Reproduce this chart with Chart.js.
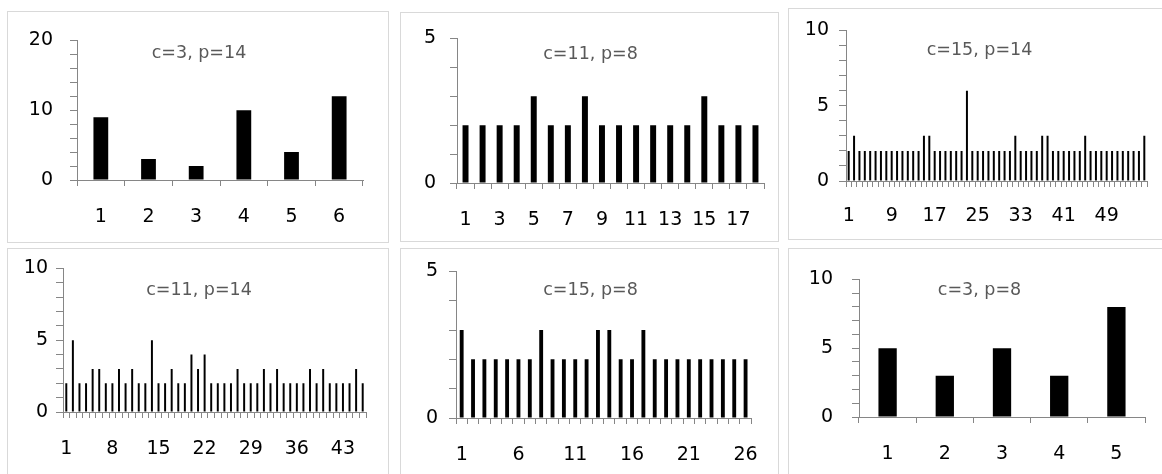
<!DOCTYPE html>
<html>
<head>
<meta charset="utf-8">
<script src="https://cdn.jsdelivr.net/npm/chart.js@4.4.1/dist/chart.umd.min.js"></script>
<style>
  body { margin: 0; background: #fff; width: 1162px; height: 474px; overflow: hidden; position: relative; }
  .panel { position: absolute; border: 1px solid #d9d9d9; background: #fff; box-sizing: border-box; }
  .panel canvas { display: block; }
</style>
</head>
<body>
<div class="panel" style="left:7px;top:11px;width:382px;height:232px"><canvas id="c3p14"></canvas></div>
<div class="panel" style="left:400px;top:12px;width:379px;height:230px"><canvas id="c11p8"></canvas></div>
<div class="panel" style="left:788px;top:8px;width:381px;height:232px"><canvas id="c15p14"></canvas></div>
<div class="panel" style="left:7px;top:248px;width:382px;height:232px"><canvas id="c11p14"></canvas></div>
<div class="panel" style="left:400px;top:248px;width:379px;height:232px"><canvas id="c15p8"></canvas></div>
<div class="panel" style="left:788px;top:248px;width:381px;height:232px"><canvas id="c3p8"></canvas></div>
<script>
// counts per group, one array per (c, p) run
const countsC3P14 = [9, 3, 2, 10, 4, 12];
const countsC11P8 = [2, 2, 2, 2, 3, 2, 2, 3, 2, 2, 2, 2, 2, 2, 3, 2, 2, 2];
const countsC15P14 = [2, 3, 2, 2, 2, 2, 2, 2, 2, 2, 2, 2, 2, 2, 3, 3, 2, 2, 2, 2,
                      2, 2, 6, 2, 2, 2, 2, 2, 2, 2, 2, 3, 2, 2, 2, 2, 3, 3, 2, 2,
                      2, 2, 2, 2, 3, 2, 2, 2, 2, 2, 2, 2, 2, 2, 2, 3];
const countsC11P14 = [2, 5, 2, 2, 3, 3, 2, 2, 3, 2, 3, 2, 2, 5, 2, 2, 3, 2, 2, 4,
                      3, 4, 2, 2, 2, 2, 3, 2, 2, 2, 3, 2, 3, 2, 2, 2, 2, 3, 2, 3,
                      2, 2, 2, 2, 3, 2];
const countsC15P8 = [3, 2, 2, 2, 2, 2, 2, 3, 2, 2, 2, 2, 3, 3, 2, 2, 3, 2, 2, 2, 2, 2, 2, 2, 2, 2];
const countsC3P8 = [5, 3, 5, 3, 8];

// group numbers 1..n on the x axis
const groupNumbers = n => Array.from({ length: n }, (_, i) => String(i + 1));

// y axis ranges: [max, minor step, labelled step]
const yRangeC3P14 = [20, 2, 10];
const yRangeSmall = [5, 1, 5];
const yRangeTen = [10, 1, 5];

// every k-th group number gets a label
const xLabelEvery = { c3p14: 1, c11p8: 2, c15p14: 8, c11p14: 7, c15p8: 5, c3p8: 1 };

const axisGray = '#868686';
const labelFont = { family: '"DejaVu Sans"', size: 19 };

const panelTitle = {
  id: 'panelTitle',
  afterDraw(chart, args, opts) {
    const ctx = chart.ctx;
    ctx.save();
    ctx.font = '17.5px "DejaVu Sans"';
    ctx.fillStyle = '#595959';
    ctx.textAlign = 'center';
    ctx.textBaseline = 'alphabetic';
    ctx.fillText(opts.text, chart.width / 2 + 1, opts.baseline);
    ctx.restore();
  }
};

const panels = [
  { id: 'c3p14', title: 'c=3, p=14', values: countsC3P14, y: yRangeC3P14, bar: 0.31,
    area: { left: 69, top: 16, right: 355, bottom: 168 }, yPad: 17, xPad: 20 },
  { id: 'c11p8', title: 'c=11, p=8', values: countsC11P8, y: yRangeSmall, bar: 0.35,
    area: { left: 56, top: 15, right: 363, bottom: 170 }, yPad: 14, xPad: 20 },
  { id: 'c15p14', title: 'c=15, p=14', values: countsC15P14, y: yRangeTen, bar: 0.37,
    area: { left: 57, top: 16, right: 358, bottom: 172 }, yPad: 10, xPad: 18 },
  { id: 'c11p14', title: 'c=11, p=14', values: countsC11P14, y: yRangeTen, bar: 0.3,
    area: { left: 55, top: 16, right: 358, bottom: 163 }, yPad: 8, xPad: 20 },
  { id: 'c15p8', title: 'c=15, p=8', values: countsC15P8, y: yRangeSmall, bar: 0.34,
    area: { left: 55, top: 15, right: 360, bottom: 169 }, yPad: 11, xPad: 20 },
  { id: 'c3p8', title: 'c=3, p=8', values: countsC3P8, y: yRangeTen, bar: 0.32,
    area: { left: 70, top: 16, right: 356, bottom: 168 }, yPad: 19, xPad: 20 }
];

panels.forEach(p => {
  const canvas = document.getElementById(p.id);
  const box = canvas.parentElement;
  const W = box.clientWidth;
  const H = box.clientHeight;
  canvas.width = W;
  canvas.height = H;
  const groups = groupNumbers(p.values.length);
  const every = xLabelEvery[p.id];
  const [yMax, yMinor, yMajor] = p.y;

  new Chart(canvas, {
    type: 'bar',
    data: {
      labels: groups,
      datasets: [{
        data: p.values,
        backgroundColor: '#000000',
        barPercentage: p.bar,
        categoryPercentage: 1
      }]
    },
    options: {
      responsive: false,
      animation: false,
      devicePixelRatio: 1,
      layout: { padding: { left: 0, top: p.area.top, right: W - p.area.right, bottom: 0 } },
      plugins: {
        legend: { display: false },
        tooltip: { enabled: false },
        panelTitle: { text: p.title, baseline: 46 }
      },
      scales: {
        x: {
          grid: { offset: true, drawOnChartArea: false, tickLength: 6, color: axisGray },
          border: { color: axisGray },
          ticks: {
            autoSkip: false,
            maxRotation: 0,
            padding: p.xPad,
            color: '#000000',
            font: labelFont,
            callback: (v, i) => (i % every === 0 ? groups[i] : '')
          },
          afterFit: s => { s.height = H - p.area.bottom; }
        },
        y: {
          min: 0,
          max: yMax,
          grid: { drawOnChartArea: false, tickLength: 7, color: axisGray },
          border: { color: axisGray },
          ticks: {
            autoSkip: false,
            stepSize: yMinor,
            padding: p.yPad,
            color: '#000000',
            font: labelFont,
            callback: v => (v % yMajor === 0 ? String(v) : '')
          },
          afterFit: s => { s.width = p.area.left; }
        }
      }
    },
    plugins: [panelTitle]
  });
});
</script>
</body>
</html>
